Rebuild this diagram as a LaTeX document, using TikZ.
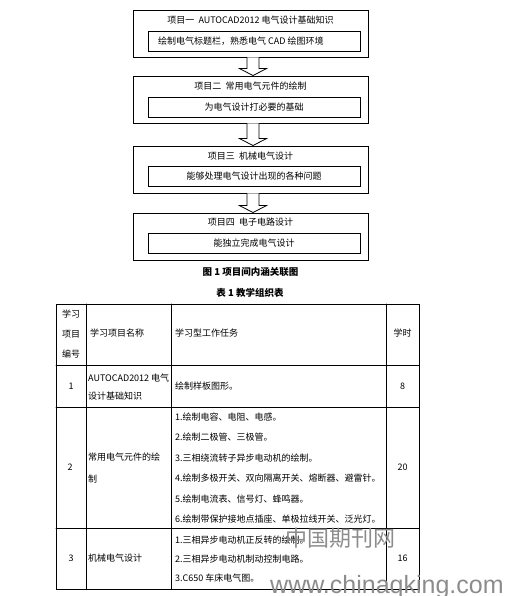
\documentclass[tikz,border=0pt]{standalone}
\usepackage{fontspec}
\setmainfont{Noto Sans CJK SC}
\newfontfamily\wmfont{Liberation Sans}
\usepackage{tikz}
\usetikzlibrary{calc}
\definecolor{wmGray}{HTML}{8C8C8C}

\begin{document}
\begin{tikzpicture}[x=1pt, y=-1pt, line cap=round,
    outerbox/.style={draw, line width=0.9pt, minimum width=235pt, minimum height=47pt, inner sep=0pt},
    innerbox/.style={draw, line width=0.9pt, minimum width=212pt, minimum height=20pt, inner sep=0pt},
    txt/.style={font=\fontsize{9}{9}\selectfont, inner sep=0pt},
    cell/.style={txt, anchor=west, align=left},
    hollowarrow/.style={draw, line width=0.8pt, fill=white, line join=miter}]
        \useasboundingbox (0,0) rectangle (506,596);
        \clip (0,0) rectangle (506,596);
        % four project boxes
        \node[outerbox] (p1) at (250.5,33.5) {};
        \node[txt] (t1) at (250.5,20) {项目一\ \ AUTOCAD2012 电气设计基础知识};
        \node[innerbox] (g1) at (254,41) {};
        \node[txt, anchor=west] (g1text) at (158,41) {绘制电气标题栏，熟悉电气 CAD 绘图环境};
        \node[outerbox] (p2) at (250.5,99.5) {};
        \node[txt] (t2) at (250.5,86) {项目二\ \ 常用电气元件的绘制};
        \node[innerbox, txt] (g2) at (254,107) {为电气设计打必要的基础};
        \node[outerbox] (p3) at (250.5,169.5) {};
        \node[txt] (t3) at (250.5,156) {项目三\ \ 机械电气设计};
        \node[innerbox, txt] (g3) at (254,176.5) {能够处理电气设计出现的各种问题};
        \node[outerbox] (p4) at (250.5,236.5) {};
        \node[txt] (t4) at (250.5,222) {项目四\ \ 电子电路设计};
        \node[innerbox, txt] (g4) at (254,243) {能独立完成电气设计};
        \foreach \a/\b in {p1/p2, p2/p3, p3/p4}
            \draw[hollowarrow] ($(\a.south)+(-3.5,0)$) -- ($(\b.north)+(-3.5,-7)$) -- ($(\b.north)+(-11,-7)$)
                -- ($(\b.north)+(2.5,0)$) -- ($(\b.north)+(16,-7)$) -- ($(\b.north)+(8.5,-7)$) -- ($(\a.south)+(8.5,0)$);
        \node[font=\fontsize{9.5}{9.5}\selectfont\bfseries, inner sep=0pt] (figcap) at (250.5,272) {图 1\ 项目间内涵关联图};
        \node[font=\fontsize{9.5}{9.5}\selectfont\bfseries, inner sep=0pt] (tabcap) at (250,293) {表 1\ 教学组织表};
        % table grid
        \draw[line width=0.9pt] (56,304) rectangle (419,589);
        \foreach \x in {86,171,386} \draw[line width=0.9pt] (\x,304) -- (\x,589);
        \foreach \y in {365,407,528} \draw[line width=0.9pt] (56,\y) -- (419,\y);
        % header
        \node[txt, align=center, font=\fontsize{9}{20}\selectfont] (hnum) at (71,334) {学习\\项目\\编号};
        \node[cell] (hname) at (90,333) {学习项目名称};
        \node[cell] (htask) at (175,333) {学习型工作任务};
        \node[txt] (hhour) at (402.5,333) {学时};
        % row 1
        \node[txt] (n1) at (71,386) {1};
        \node[cell, font=\fontsize{9}{18}\selectfont] (name1) at (88,387) {AUTOCAD2012 电气\\设计基础知识};
        \node[cell] (task1) at (175,386) {绘制样板图形。};
        \node[txt] (hour1) at (402.5,386) {8};
        % row 2
        \node[txt] (n2) at (70,467) {2};
        \node[cell, font=\fontsize{9}{22}\selectfont] (name2) at (88,468) {常用电气元件的绘\\制};
        \node[cell, font=\fontsize{9}{20.4}\selectfont] (task2) at (175,468) {1.绘制电容、电阻、电感。\\2.绘制二极管、三极管。\\3.三相绕流转子异步电动机的绘制。\\4.绘制多极开关、双向隔离开关、熔断器、避雷针。\\5.绘制电流表、信号灯、蜂鸣器。\\6.绘制带保护接地点插座、单极拉线开关、泛光灯。};
        \node[txt] (hour2) at (402.5,467) {20};
        % row 3
        \node[txt] (n3) at (71,558) {3};
        \node[cell] (name3) at (88,558) {机械电气设计};
        \node[cell, font=\fontsize{9}{19}\selectfont] (task3) at (175,559) {1.三相异步电动机正反转的绘制。\\2.三相异步电动机制动控制电路。\\3.C650 车床电气图。};
        \node[txt] (hour3) at (402.5,558) {16};
        % watermark
        \node[text=wmGray, font=\fontsize{22}{22}\selectfont, inner sep=0pt] (wm1) at (340,538) {中国期刊网};
        \node[text=wmGray, font=\wmfont\fontsize{25}{25}\selectfont, inner sep=0pt, anchor=base west] (wm2) at (270,593) {www.chinaqking.com};
    \end{tikzpicture}
\end{document}
